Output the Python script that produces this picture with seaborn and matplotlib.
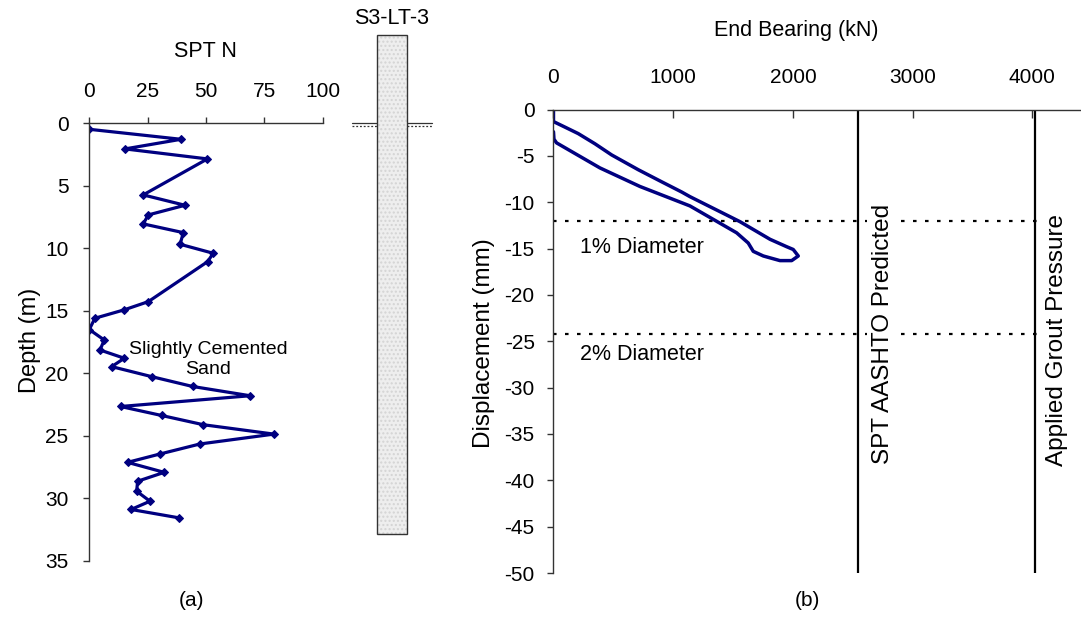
import numpy as np
import pandas as pd
import matplotlib
matplotlib.use("Agg")
import matplotlib.pyplot as plt
import seaborn as sns
from matplotlib.patches import Rectangle

# ---------------- data ----------------
spt_n = [0, 39.3, 15.3, 50.6, 23.1, 41.0, 25.3, 23.1, 40.3, 38.9, 53.1, 50.7, 25.3, 14.9,
         2.4, 0, 6.4, 4.6, 15.0, 9.6, 26.7, 44.3, 68.9, 13.4, 31.0, 48.9, 79.1, 47.4,
         30.3, 16.4, 32.1, 20.7, 20.3, 26.0, 17.9, 38.4]
spt_depth = [0.48, 1.28, 2.05, 2.85, 5.73, 6.56, 7.33, 8.05, 8.75, 9.68, 10.4, 11.07, 14.27, 14.93,
             15.6, 16.5, 17.34, 18.14, 18.8, 19.47, 20.27, 21.06, 21.8, 22.66, 23.38, 24.12, 24.87, 25.66,
             26.46, 27.13, 27.93, 28.64, 29.44, 30.24, 30.9, 31.57]
spt_ticks = [0, 25, 50, 75, 100]
depth_ticks = [0, 5, 10, 15, 20, 25, 30, 35]

pile_name = "S3-LT-3"
pile_top_depth = -7.1
pile_tip_depth = 32.9

load_kN = [0, 0, 96, 207, 347, 486, 709, 904, 1071, 1140, 1558, 1809, 1948, 2003, 2045,
           1990, 1892, 1753, 1669, 1627, 1530, 1140, 722, 388, 26, 4, 0]
disp_mm = [0, -1.3, -1.9, -2.6, -3.7, -4.9, -6.5, -7.8, -8.9, -9.4, -12.1, -14.0, -14.8, -15.1, -15.8,
           -16.3, -16.3, -15.8, -15.3, -14.4, -13.3, -10.4, -8.3, -6.3, -3.6, -3.2, -2.4]
load_ticks = [0, 1000, 2000, 3000, 4000]
disp_ticks = [0, -5, -10, -15, -20, -25, -30, -35, -40, -45, -50]

spt_aashto_kN = 2540
grout_kN = 4020
one_pct_mm = -12
two_pct_mm = -24.2

# ---------------- style ----------------
sns.set_theme(style="white")
plt.rcParams['font.family'] = ['Liberation Sans', 'DejaVu Sans']
plt.rcParams['axes.unicode_minus'] = False
plt.rcParams['text.color'] = 'black'
plt.rcParams['xtick.color'] = 'black'
plt.rcParams['ytick.color'] = 'black'
plt.rcParams['xtick.labelcolor'] = 'black'
plt.rcParams['ytick.labelcolor'] = 'black'
FS = 15
FT = 15.5
FR = 17.5
NAVY = "#000080"

fig = plt.figure(figsize=(10.81, 6.18), dpi=100)
axL = fig.add_axes([0.0826, 0.0927, 0.2159, 0.7078])
axR = fig.add_axes([0.512, 0.0728, 0.488, 0.75])

# ---------------- left panel ----------------
df_spt = pd.DataFrame({"N": spt_n, "Depth": spt_depth})
sns.lineplot(data=df_spt, x="N", y="Depth", sort=False, orient="y", estimator=None,
             color=NAVY, lw=2.3, marker="D", markersize=4, markeredgecolor=NAVY, ax=axL)
axL.set_xlim(0, 100)
axL.set_ylim(35, 0)
axL.set_xticks(spt_ticks)
axL.set_yticks(depth_ticks)
axL.xaxis.tick_top()
axL.set_xlabel("")
axL.set_ylabel("")
for s in ["right", "bottom"]:
    axL.spines[s].set_visible(False)
for s in ["top", "left"]:
    axL.spines[s].set_color("#333333")
    axL.spines[s].set_linewidth(1.0)
axL.tick_params(axis="x", top=True, bottom=False, direction="out", length=4.5, width=1,
                color="#333333", pad=11.5, labelsize=FS)
axL.tick_params(axis="y", left=True, direction="out", length=4.5, width=1,
                color="#333333", pad=10.5, labelsize=FS)
axL.text(50.9, 18.9, "Slightly Cemented\nSand", ha="center", va="center", fontsize=14,
         linespacing=1.25)

# pile column
axL.add_patch(Rectangle((123.1, pile_top_depth), 12.9, pile_tip_depth - pile_top_depth,
                        facecolor="#eeeeee", edgecolor="#d4d4d4", lw=0, clip_on=False,
                        hatch="....", zorder=3))
axL.add_patch(Rectangle((123.1, pile_top_depth), 12.9, pile_tip_depth - pile_top_depth,
                        facecolor="none", edgecolor="#333333", lw=1.0, clip_on=False, zorder=4))
for x0, x1 in [(112.6, 123.1), (136.0, 146.8)]:
    axL.plot([x0, x1], [0, 0], color="#333333", lw=0.9, clip_on=False)
    axL.plot([x0, x1], [0.22, 0.22], color="#333333", lw=0.9, ls=(0, (1.5, 1.5)), clip_on=False)
axL.text(129.5, -8.4, pile_name, ha="center", va="center", fontsize=FT, clip_on=False)

# ---------------- right panel ----------------
df_ld = pd.DataFrame({"Load": load_kN, "Disp": disp_mm})
sns.lineplot(data=df_ld, x="Load", y="Disp", sort=False, estimator=None,
             color=NAVY, lw=2.5, ax=axR)
axR.set_xlim(0, 4407)
axR.set_ylim(-50, 0)
axR.set_xticks(load_ticks)
axR.set_yticks(disp_ticks)
axR.xaxis.tick_top()
axR.set_xlabel("")
axR.set_ylabel("")
for s in ["right", "bottom"]:
    axR.spines[s].set_visible(False)
for s in ["top", "left"]:
    axR.spines[s].set_color("#333333")
    axR.spines[s].set_linewidth(1.0)
axR.tick_params(axis="x", top=True, bottom=False, direction="in", length=6, width=1,
                color="#333333", pad=16.5, labelsize=FS)
axR.tick_params(axis="y", left=True, direction="out", length=4.5, width=1,
                color="#333333", pad=9, labelsize=FS)

for yv in [one_pct_mm, two_pct_mm]:
    axR.axhline(yv, color="black", lw=1.6, ls=(0, (1.6, 3.8)), zorder=1)
for xv in [spt_aashto_kN, grout_kN]:
    axR.axvline(xv, color="black", lw=1.6, zorder=2)

axR.text(221, -14.9, "1% Diameter", ha="left", va="center", fontsize=FT)
axR.text(221, -26.4, "2% Diameter", ha="left", va="center", fontsize=FT)
axR.text(2755, -24.2, "SPT AASHTO Predicted", rotation=90, ha="center", va="center",
         fontsize=FR, zorder=3,
         bbox=dict(facecolor="white", edgecolor="none", pad=4))
axR.text(4210, -24.9, "Applied Grout Pressure", rotation=90, ha="center", va="center",
         fontsize=FR, zorder=3,
         bbox=dict(facecolor="white", edgecolor="none", pad=6))

# ---------------- figure texts ----------------
fig.text(0.19, 0.916, "SPT N", ha="center", va="center", fontsize=FT)
fig.text(0.737, 0.951, "End Bearing (kN)", ha="center", va="center", fontsize=FT)
fig.text(0.028, 0.45, "Depth (m)", rotation=90, ha="center", va="center", fontsize=FR - 0.5)
fig.text(0.448, 0.445, "Displacement (mm)", rotation=90, ha="center", va="center", fontsize=FR)
fig.text(0.177, 0.029, "(a)", ha="center", va="center", fontsize=FS)
fig.text(0.747, 0.029, "(b)", ha="center", va="center", fontsize=FS)

fig.savefig("out.png", dpi=100)
